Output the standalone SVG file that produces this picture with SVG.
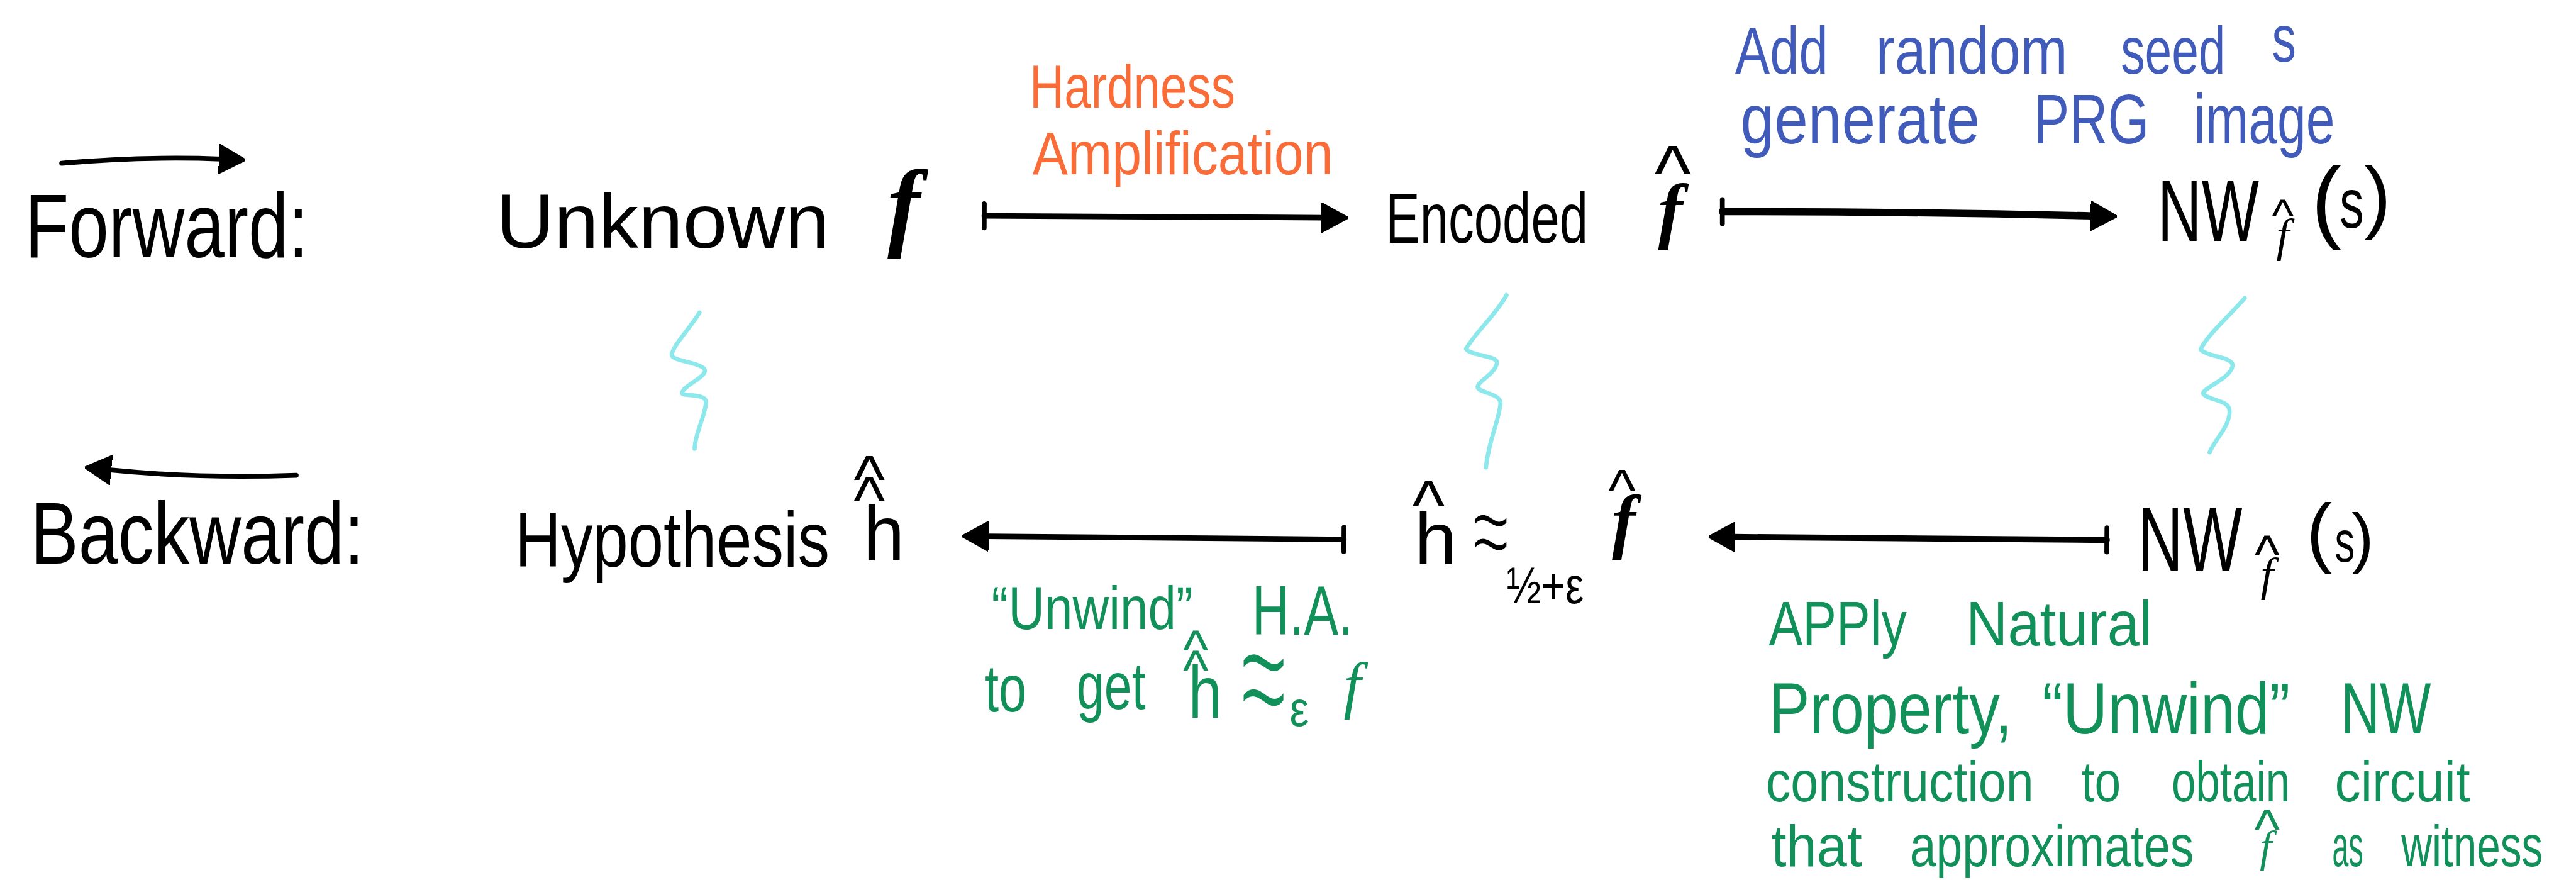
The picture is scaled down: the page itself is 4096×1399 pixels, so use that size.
<svg xmlns="http://www.w3.org/2000/svg" width="4096" height="1399" viewBox="0 0 4096 1399">
<defs>
<style>
.k{font-family:"Liberation Sans",Arial,sans-serif;fill:#000}
.m{font-family:"Liberation Serif","Times New Roman",serif;font-style:italic;text-anchor:middle}
.mb{font-weight:bold}
.hat{font-family:"Liberation Sans",Arial,sans-serif;font-style:normal;text-anchor:middle}
.o{font-family:"Liberation Sans",Arial,sans-serif;fill:#F96C37}
.b{font-family:"Liberation Sans",Arial,sans-serif;fill:#415BBA}
.g{font-family:"Liberation Sans",Arial,sans-serif;fill:#12905A}
.thin{stroke:#fff;stroke-width:2.5;paint-order:normal}
.sq{fill:none;stroke:#8DE8EC;stroke-width:7;stroke-linecap:round;stroke-linejoin:round}
.arr{fill:none;stroke:#000;stroke-linecap:round}
</style>
<marker id="head" viewBox="0 0 44 50" refX="4" refY="25" markerWidth="44" markerHeight="50" markerUnits="userSpaceOnUse" orient="auto">
<path d="M0,1 L44,25 L0,49 Z" fill="#000" stroke="#000" stroke-width="3" stroke-linejoin="round"/>
</marker>
<marker id="bar" viewBox="0 0 10 50" refX="5" refY="25" markerWidth="10" markerHeight="50" markerUnits="userSpaceOnUse" orient="auto">
<rect x="1" y="1" width="8" height="48" rx="4" fill="#000"/>
</marker>
</defs>
<rect width="4096" height="1399" fill="#fff"/>
<g id="diagram" transform="scale(0.961277)">

<g id="legend-forward">
<text class="k" x="41" y="425" font-size="150" textLength="469" lengthAdjust="spacingAndGlyphs">Forward:</text>
</g>
<g id="legend-backward">
<text class="k" x="51" y="932" font-size="145" textLength="551" lengthAdjust="spacingAndGlyphs">Backward:</text>
</g>

<g id="node-unknown-f">
<text class="k"><tspan x="821" y="410" font-size="128" textLength="551" lengthAdjust="spacingAndGlyphs">Unknown</tspan><tspan class="m mb" x="1495" y="394" font-size="163">f</tspan></text>
</g>

<g id="node-encoded-f">
<text class="k" transform="translate(2292,402) scale(0.719,1)" font-size="118">Encoded</text>
<text class="k"><tspan class="m mb" x="2763" y="388" font-size="122">f</tspan><tspan class="hat" x="2767" y="331" font-size="130">^</tspan></text>
</g>

<g id="node-nw-forward">
<text class="k" transform="translate(3569,398) scale(0.695,1)" font-size="145">NW</text>
<text class="k"><tspan class="m" x="3776" y="415" font-size="77">f</tspan><tspan class="hat" x="3776" y="383" font-size="78">^</tspan></text>
<text class="k"><tspan x="3823" y="383" font-size="152">(</tspan><tspan x="3870" y="377" font-size="115" textLength="40" lengthAdjust="spacingAndGlyphs">s</tspan><tspan x="3911" y="369" font-size="132">)</tspan></text>
</g>

<g id="label-hardness">
<text class="o" font-size="100"><tspan x="1703" y="178" textLength="340" lengthAdjust="spacingAndGlyphs">Hardness</tspan><tspan x="1708" y="288" textLength="497" lengthAdjust="spacingAndGlyphs">Amplification</tspan></text>
</g>

<g id="label-seed">
<text class="b" font-size="110"><tspan x="2870" y="122" textLength="154" lengthAdjust="spacingAndGlyphs">Add</tspan><tspan x="3103" y="122" textLength="317" lengthAdjust="spacingAndGlyphs">random</tspan><tspan x="3508" y="122" textLength="173" lengthAdjust="spacingAndGlyphs">seed</tspan><tspan x="3758" y="102" textLength="40" lengthAdjust="spacingAndGlyphs">s</tspan></text>
<text class="b" font-size="115"><tspan x="2879" y="237" textLength="396" lengthAdjust="spacingAndGlyphs">generate</tspan><tspan x="3364" y="237" textLength="191" lengthAdjust="spacingAndGlyphs">PRG</tspan><tspan x="3629" y="237" textLength="233" lengthAdjust="spacingAndGlyphs">image</tspan></text>
</g>

<g id="node-hypothesis">
<text class="k" transform="translate(852,937) scale(0.809,1)" font-size="130">Hypothesis</text>
<text class="k"><tspan x="1428" y="927" font-size="129" textLength="68" lengthAdjust="spacingAndGlyphs">h</tspan><tspan class="hat" x="1438" y="864" font-size="110">^</tspan><tspan class="hat" x="1438" y="830" font-size="110">^</tspan></text>
</g>

<g id="node-h-approx-f">
<text class="k"><tspan x="2340" y="933" font-size="121" textLength="70" lengthAdjust="spacingAndGlyphs">h</tspan><tspan class="hat" x="2363" y="876" font-size="115">^</tspan></text>
<text class="k thin" transform="translate(2466,944) scale(1.1,1.9)" x="0" y="0" font-size="100" text-anchor="middle">≈</text>
<text class="k" x="2492" y="998" font-size="85" textLength="128" lengthAdjust="spacingAndGlyphs">½+ε</text>
<text class="k"><tspan class="m mb" x="2686" y="902" font-size="118">f</tspan><tspan class="hat" x="2683" y="845" font-size="98">^</tspan></text>
</g>

<g id="node-nw-backward">
<text class="k" transform="translate(3536,944) scale(0.692,1)" font-size="150">NW</text>
<text class="k"><tspan class="m" x="3750" y="976" font-size="77">f</tspan><tspan class="hat" x="3750" y="949" font-size="90">^</tspan></text>
<text class="k"><tspan x="3815" y="923" font-size="128">(</tspan><tspan x="3862" y="929" font-size="96" textLength="33" lengthAdjust="spacingAndGlyphs">s</tspan><tspan x="3890" y="927" font-size="110">)</tspan></text>
</g>

<g id="label-unwind-ha">
<text class="g" font-size="100"><tspan x="1640" y="1040" textLength="333" lengthAdjust="spacingAndGlyphs">“Unwind”</tspan><tspan x="2071" y="1050" font-size="115" textLength="167" lengthAdjust="spacingAndGlyphs">H.A.</tspan></text>
<text class="g" font-size="110"><tspan x="1629" y="1177" textLength="69" lengthAdjust="spacingAndGlyphs">to</tspan><tspan x="1781" y="1172" textLength="114" lengthAdjust="spacingAndGlyphs">get</tspan></text>
<text class="g"><tspan x="1966" y="1187" font-size="122" textLength="55" lengthAdjust="spacingAndGlyphs">h</tspan><tspan class="hat" x="1978" y="1139" font-size="90">^</tspan><tspan class="hat" x="1978" y="1106" font-size="90">^</tspan></text>
<text class="g thin" transform="translate(2090,1217) scale(1.4,2.8)" x="0" y="0" font-size="100" text-anchor="middle">≈</text>
<text class="g" x="2133" y="1200" font-size="80" textLength="32" lengthAdjust="spacingAndGlyphs">ε</text>
<text class="m" x="2237" y="1168" font-size="103" fill="#12905A">f</text>
</g>

<g id="label-apply-natural">
<text class="g" font-size="105"><tspan x="2926" y="1067" textLength="228" lengthAdjust="spacingAndGlyphs">APPly</tspan><tspan x="3252" y="1067" textLength="308" lengthAdjust="spacingAndGlyphs">Natural</tspan></text>
<text class="g" transform="translate(2926,1213) scale(0.842,1)" font-size="120">Property,</text>
<text class="g" font-size="120"><tspan x="3378" y="1213" textLength="410" lengthAdjust="spacingAndGlyphs">“Unwind”</tspan><tspan x="3872" y="1213" textLength="149" lengthAdjust="spacingAndGlyphs">NW</tspan></text>
<text class="g" font-size="95"><tspan x="2921" y="1325" textLength="443" lengthAdjust="spacingAndGlyphs">construction</tspan><tspan x="3443" y="1325" textLength="65" lengthAdjust="spacingAndGlyphs">to</tspan><tspan x="3592" y="1325" textLength="196" lengthAdjust="spacingAndGlyphs">obtain</tspan><tspan x="3862" y="1325" textLength="224" lengthAdjust="spacingAndGlyphs">circuit</tspan></text>
<text class="g" font-size="97"><tspan x="2930" y="1432" textLength="150" lengthAdjust="spacingAndGlyphs">that</tspan></text>
<text class="g" transform="translate(3159,1432) scale(0.807,1)" font-size="97">approximates</text>
<text class="g"><tspan class="m" x="3748" y="1424" font-size="72">f</tspan><tspan class="hat" x="3750" y="1402" font-size="90">^</tspan></text>
<text class="g" font-size="97"><tspan x="3858" y="1432" textLength="51" lengthAdjust="spacingAndGlyphs">as</tspan></text>
<text class="g" transform="translate(3972,1432) scale(0.724,1)" font-size="97">witness</text>
</g>

<g id="connectors">
<path class="arr" stroke-width="8" d="M102,270 Q240,258 366,263" marker-end="url(#head)"/>
<path class="arr" stroke-width="8" d="M490,786 Q330,792 180,777" marker-end="url(#head)"/>
<path class="arr" stroke-width="9" d="M1628,357 L2190,360" marker-start="url(#bar)" marker-end="url(#head)"/>
<path class="arr" stroke-width="12" d="M2849,350 Q3150,350 3462,357" marker-start="url(#bar)" marker-end="url(#head)"/>
<path class="arr" stroke-width="9" d="M2223,892 L1631,887" marker-start="url(#bar)" marker-end="url(#head)"/>
<path class="arr" stroke-width="10" d="M3485,893 L2866,888" marker-start="url(#bar)" marker-end="url(#head)"/>
<path class="sq" d="M1157,517 C1140,545 1114,570 1111,587 C1112,598 1166,600 1166,613 C1166,625 1130,638 1128,650 C1130,656 1168,650 1168,665 C1166,690 1150,715 1149,742"/>
<path class="sq" d="M2492,488 C2475,520 2440,550 2425,577 C2430,588 2478,588 2476,600 C2474,618 2445,630 2444,640 C2446,650 2483,650 2482,668 C2478,700 2462,730 2458,773"/>
<path class="sq" d="M3713,493 C3690,520 3650,555 3640,578 C3650,590 3694,590 3693,605 C3690,625 3648,640 3644,650 C3648,662 3688,660 3688,680 C3688,705 3665,725 3655,748"/>
</g>

</g>
</svg>
